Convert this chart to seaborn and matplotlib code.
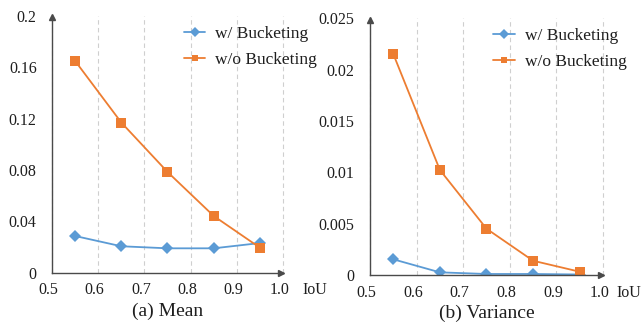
import numpy as np
import pandas as pd
import seaborn as sns
from matplotlib import pyplot as plt
from matplotlib.transforms import ScaledTranslation

# IoU buckets (centres)
iou = [0.55, 0.65, 0.75, 0.85, 0.95]

# (a) mean
mean_with = [0.0286, 0.0206, 0.0190, 0.0190, 0.0231]
mean_without = [0.165, 0.117, 0.0785, 0.0442, 0.0195]

# (b) variance
var_with = [0.00153, 0.00026, 0.00010, 0.00010, 0.00005]
var_without = [0.02152, 0.01023, 0.00451, 0.00139, 0.00032]

x_ticks = [0.5, 0.6, 0.7, 0.8, 0.9, 1.0]
x_ticklabels = ["0.5", "0.6", "0.7", "0.8", "0.9", "1.0"]
mean_ticks = [0, 0.04, 0.08, 0.12, 0.16, 0.2]
mean_ticklabels = ["0", "0.04", "0.08", "0.12", "0.16", "0.2"]
var_ticks = [0, 0.005, 0.01, 0.015, 0.02, 0.025]
var_ticklabels = ["0", "0.005", "0.01", "0.015", "0.02", "0.025"]

BLUE = "#5B9BD5"
ORANGE = "#ED7D31"
AXIS = "#4a4a4a"
TEXT = "#1e1e1e"

sns.set_style("white")
plt.rcParams["font.family"] = ["Liberation Serif", "DejaVu Serif"]

fig = plt.figure(figsize=(6.41, 3.25), dpi=100)
ax_a = fig.add_axes([0.0811, 0.1609, 0.3604, 0.79])
ax_b = fig.add_axes([0.5772, 0.1538, 0.3635, 0.79])


def draw_panel(ax, with_vals, without_vals, yticks, yticklabels, title, iou_off, leg_x):
    df = pd.DataFrame({
        "IoU": iou * 2,
        "value": with_vals + without_vals,
        "series": ["w/ Bucketing"] * len(iou) + ["w/o Bucketing"] * len(iou),
    })
    sns.lineplot(data=df, x="IoU", y="value", hue="series", style="series",
                 markers={"w/ Bucketing": "D", "w/o Bucketing": "s"},
                 dashes=False, palette={"w/ Bucketing": BLUE, "w/o Bucketing": ORANGE},
                 markersize=6.5, linewidth=1.3, markeredgewidth=0, ax=ax, zorder=3)

    ax.set_xlim(0.5, 1.0)
    ax.set_ylim(yticks[0], yticks[-1])
    ax.set_xticks(x_ticks)
    ax.set_xticklabels(x_ticklabels)
    ax.set_yticks(yticks)
    ax.set_yticklabels(yticklabels)
    ax.tick_params(axis="x", length=0, pad=7, labelsize=11.5, colors=TEXT)
    ax.tick_params(axis="y", length=0, pad=11, labelsize=11.5, colors=TEXT)

    # tick labels sit a touch left of their grid lines
    for lbl in ax.get_xticklabels():
        lbl.set_transform(lbl.get_transform() + ScaledTranslation(-0.035, 0, fig.dpi_scale_trans))

    # vertical dashed grid only
    ax.grid(axis="x", linestyle=(0, (4, 3)), color="#cfcfcf", linewidth=0.8)
    ax.grid(axis="y", visible=False)
    for gl in ax.get_xgridlines():
        gl.set_clip_on(False)

    for side in ["top", "right"]:
        ax.spines[side].set_visible(False)
    for side in ["left", "bottom"]:
        ax.spines[side].set_color(AXIS)
        ax.spines[side].set_linewidth(1.0)
        ax.spines[side].set_zorder(4)

    # axis arrow heads
    ax.plot(0.99, 0, ">", transform=ax.transAxes, color=AXIS, markersize=4, clip_on=False)
    ax.plot(0, 0.995, "^", transform=ax.transAxes, color=AXIS, markersize=4, clip_on=False)

    ax.annotate("IoU", xy=(1.0, 0), xycoords="axes fraction", xytext=(iou_off, -7),
                textcoords="offset points", ha="left", va="top", fontsize=11.5,
                color=TEXT, annotation_clip=False)

    ax.set_xlabel(title, fontsize=14, labelpad=3, color=TEXT)
    ax.set_ylabel("")

    leg = ax.legend(loc="upper left", bbox_to_anchor=(leg_x, 0.99), frameon=False,
                    fontsize=12.5, handlelength=1.25, handletextpad=0.55,
                    labelspacing=0.6, borderaxespad=0, markerscale=0.75)
    for t in leg.get_texts():
        t.set_color(TEXT)


draw_panel(ax_a, mean_with, mean_without, mean_ticks, mean_ticklabels, "(a) Mean", 14, 0.54)
draw_panel(ax_b, var_with, var_without, var_ticks, var_ticklabels, "(b) Variance", 10, 0.5)

fig.savefig("out.png", dpi=100)
